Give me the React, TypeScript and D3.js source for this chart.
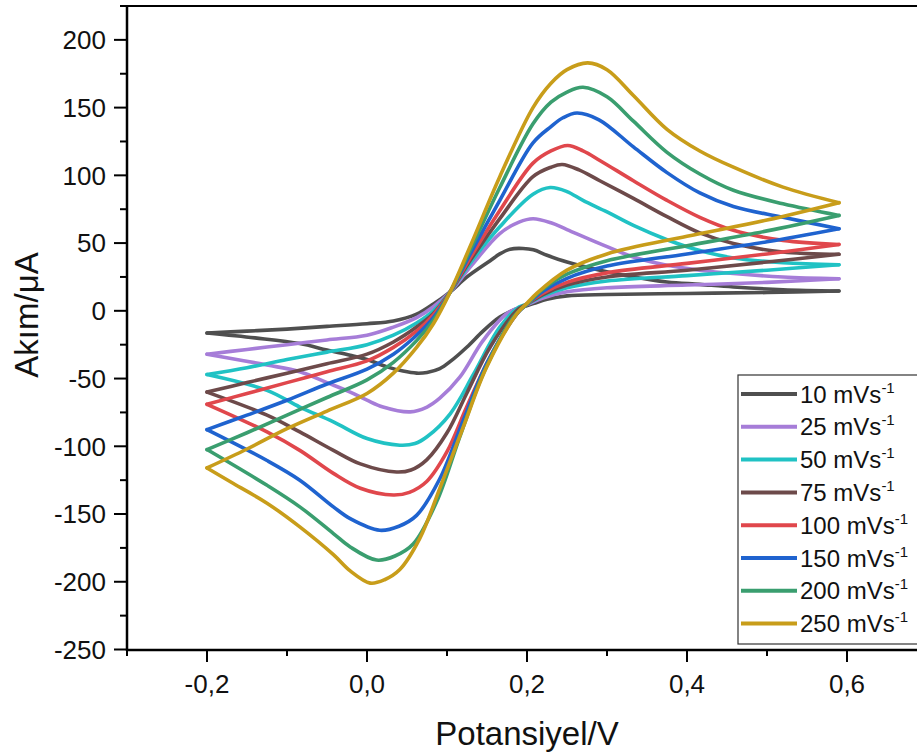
import React from "react";
import * as d3 from "d3";

// Scan rates and colours
const scanRates = ["10", "25", "50", "75", "100", "150", "200", "250"];
const colors = ["#4f4f4f", "#a67dd8", "#20c2c4", "#6d4a4a", "#e0474c", "#1f63cf", "#3a9e6f", "#c89d1a"];

// Forward (anodic) sweeps: [potential V, current µA]
const fwd10 = [[-0.2,-16.4],[-0.15,-15],[-0.1,-13.5],[-0.05,-11.5],[0.0,-9.5],[0.033,-7.5],[0.062,-2.5],[0.083,5],[0.104,14],[0.125,25],[0.154,37],[0.166,42],[0.179,45.5],[0.195,46],[0.208,45],[0.225,41],[0.25,36],[0.291,30],[0.333,25],[0.375,21.3],[0.416,19.5],[0.458,17.6],[0.52,15.6],[0.59,14.6]];
const fwd25 = [[-0.2,-32],[-0.15,-28.5],[-0.1,-25],[-0.05,-21.5],[0.0,-18],[0.033,-12],[0.062,-5],[0.083,3],[0.104,14],[0.13,33],[0.166,57],[0.19,65.5],[0.2075,68],[0.23,65],[0.25,60],[0.291,49.6],[0.333,39.7],[0.375,33.6],[0.416,30],[0.458,27.5],[0.52,25],[0.59,23.7]];
const fwd50 = [[-0.2,-47],[-0.15,-42],[-0.1,-36],[-0.05,-30.5],[0.0,-25],[0.033,-18],[0.062,-9],[0.083,0],[0.104,14],[0.13,36],[0.166,62],[0.2075,86],[0.229,91],[0.25,88],[0.27,81.5],[0.3,73],[0.333,63],[0.375,52.5],[0.416,44.5],[0.458,39],[0.52,35.5],[0.59,34]];
const fwd75 = [[-0.2,-60],[-0.15,-53],[-0.1,-46],[-0.05,-39],[0.0,-32],[0.033,-23],[0.062,-12],[0.083,-2],[0.104,14],[0.13,38],[0.166,68],[0.2075,99],[0.23,106],[0.244,108],[0.265,104],[0.291,96],[0.333,83],[0.375,69.5],[0.416,57.5],[0.458,49.6],[0.52,43.4],[0.59,41.7]];
const fwd100 = [[-0.2,-69],[-0.15,-61],[-0.1,-53],[-0.05,-45],[0.0,-37],[0.033,-27],[0.062,-15],[0.083,-3],[0.104,14],[0.13,40],[0.166,74],[0.2075,109],[0.23,118],[0.251,122],[0.27,118],[0.291,111],[0.333,96],[0.375,81.5],[0.416,69],[0.458,59.4],[0.52,52],[0.59,49]];
const fwd150 = [[-0.2,-87.7],[-0.15,-77],[-0.1,-66],[-0.05,-54],[0.0,-43],[0.033,-32],[0.062,-18],[0.083,-5],[0.104,14],[0.13,43],[0.166,81.5],[0.2075,124],[0.23,136],[0.245,142.5],[0.2625,146],[0.29,141],[0.333,121],[0.375,102],[0.416,87],[0.458,77],[0.52,69],[0.59,60.6]];
const fwd200 = [[-0.2,-102.4],[-0.15,-90],[-0.1,-77],[-0.05,-64],[0.0,-51],[0.033,-38],[0.062,-22],[0.083,-7],[0.104,14],[0.13,46],[0.166,91],[0.2075,138],[0.23,154],[0.25,161.5],[0.27,165],[0.3,158],[0.333,140],[0.375,117],[0.416,101],[0.458,89],[0.52,79],[0.59,70.4]];
const fwd250 = [[-0.2,-116],[-0.15,-102],[-0.1,-87],[-0.05,-74],[0.0,-61],[0.033,-46],[0.062,-27],[0.083,-9.5],[0.104,14],[0.13,49],[0.166,99],[0.2075,150],[0.23,168],[0.25,178],[0.276,183],[0.3,178],[0.333,159],[0.375,134],[0.416,118],[0.458,106],[0.52,91.3],[0.59,79.8]];

// Reverse (cathodic) sweeps: [potential V, current µA]
const rev10 = [[0.59,14.6],[0.5,13.5],[0.4,12.8],[0.3,12],[0.25,11],[0.225,8.5],[0.208,5.3],[0.185,1],[0.166,-4.6],[0.145,-15],[0.125,-26.7],[0.105,-37],[0.091,-42.7],[0.075,-45.5],[0.062,-46],[0.045,-44.5],[0.025,-41.4],[0.0,-36],[-0.021,-32.8],[-0.05,-29],[-0.084,-24.2],[-0.14,-20],[-0.2,-16.4]];
const rev25 = [[0.59,23.7],[0.5,21],[0.4,19],[0.3,17],[0.25,14],[0.22,9.5],[0.2,4.5],[0.175,-2],[0.145,-22],[0.116,-49],[0.091,-64.5],[0.075,-71],[0.054,-74.6],[0.02,-71],[0.0,-66],[-0.021,-60],[-0.05,-53],[-0.084,-45],[-0.125,-40],[-0.2,-32]];
const rev50 = [[0.59,34],[0.5,30],[0.4,26],[0.3,22],[0.25,17],[0.22,11],[0.2,5],[0.19,2.8],[0.166,-12],[0.133,-47],[0.104,-76],[0.075,-93],[0.06,-98],[0.041,-99.2],[0.0,-94.3],[-0.042,-82],[-0.084,-71],[-0.125,-58.7],[-0.2,-47]];
const rev75 = [[0.59,41.7],[0.5,36],[0.4,30],[0.3,25],[0.25,19],[0.22,12],[0.2,5],[0.1875,0.4],[0.154,-26.7],[0.1246,-61],[0.1,-90],[0.0746,-110],[0.055,-117.5],[0.037,-119],[-0.0083,-113],[-0.042,-103],[-0.084,-89.4],[-0.125,-77],[-0.2,-60]];
const rev100 = [[0.59,49],[0.5,42],[0.4,35],[0.3,28],[0.25,21],[0.22,13],[0.2,5],[0.1875,-2],[0.154,-34],[0.1246,-71],[0.1,-104],[0.0746,-126],[0.053,-134],[0.033,-136],[-0.0083,-131],[-0.042,-120],[-0.084,-103],[-0.125,-89.4],[-0.2,-69]];
const rev150 = [[0.59,60.6],[0.5,51],[0.4,42],[0.3,33],[0.25,24],[0.22,14.5],[0.2,5],[0.1875,-2],[0.1496,-39],[0.1204,-80.8],[0.091,-124],[0.062,-151],[0.04,-159],[0.016,-162],[-0.021,-153.4],[-0.042,-144.7],[-0.084,-125],[-0.125,-110.5],[-0.2,-87.7]];
const rev200 = [[0.59,70.4],[0.5,59],[0.4,48],[0.3,37],[0.25,27],[0.22,16],[0.2,5],[0.183,-4.6],[0.1454,-46.3],[0.116,-93],[0.087,-141],[0.058,-172],[0.035,-181],[0.012,-184],[-0.021,-174.3],[-0.042,-164.4],[-0.084,-144.7],[-0.125,-128.8],[-0.2,-102.4]];
const rev250 = [[0.59,79.8],[0.5,67],[0.4,55],[0.3,42],[0.25,30],[0.2125,13],[0.2,5.5],[0.1875,-2],[0.1496,-41.5],[0.1204,-85.7],[0.091,-131],[0.066,-168],[0.041,-191],[0.022,-198.5],[0.004,-201],[-0.021,-192],[-0.042,-180],[-0.084,-159.5],[-0.125,-142],[-0.167,-127.5],[-0.2,-116]];

const forwardSweeps = [fwd10, fwd25, fwd50, fwd75, fwd100, fwd150, fwd200, fwd250];
const reverseSweeps = [rev10, rev25, rev50, rev75, rev100, rev150, rev200, rev250];

const xMajorTicks = [-0.2, 0.0, 0.2, 0.4, 0.6];
const xMinorTicks = [-0.3, -0.1, 0.1, 0.3, 0.5, 0.7];
const yMajorTicks = [-250, -200, -150, -100, -50, 0, 50, 100, 150, 200];
const yMinorTicks = [-225, -175, -125, -75, -25, 25, 75, 125, 175, 225];

const W = 917;
const H = 753;
const FONT = "'Liberation Sans', Arial, Helvetica, sans-serif";

export default function App() {
  const x = d3.scaleLinear().domain([-0.3, 0.7]).range([127, 927]);
  const y = d3.scaleLinear().domain([-250, 225]).range([649.5, 6]);

  const line = d3
    .line<number[]>()
    .x((d) => x(d[0]))
    .y((d) => y(d[1]))
    .curve(d3.curveCatmullRom.alpha(0.5));

  const sorted = (arr: number[][]) => [...arr].sort((a, b) => a[0] - b[0]);

  const legendTop = 394;
  const legendStep = 32.8;

  return (
    <svg
      width={W}
      height={H}
      style={{ position: "absolute", left: 0, top: 0, background: "#fff" }}
      fontFamily={FONT}
    >
      <rect x={0} y={0} width={W} height={H} fill="#fff" />
      <defs>
        <clipPath id="plotClip">
          <rect x={127} y={6} width={800} height={643.5} />
        </clipPath>
      </defs>

      {/* curves */}
      <g clipPath="url(#plotClip)" fill="none" strokeWidth={3.6} strokeLinejoin="round" strokeLinecap="round">
        {scanRates.map((s, i) => (
          <g key={s} stroke={colors[i]}>
            <path d={line(sorted(forwardSweeps[i])) || ""} />
            <path d={line(sorted(reverseSweeps[i])) || ""} />
          </g>
        ))}
      </g>

      {/* frame */}
      <line x1={127} x2={930} y1={6} y2={6} stroke="#000" strokeWidth={2.2} />
      <line x1={127} x2={127} y1={5} y2={651} stroke="#000" strokeWidth={2.5} />
      <line x1={126} x2={930} y1={650} y2={650} stroke="#000" strokeWidth={2.5} />

      {/* y ticks */}
      {yMajorTicks.map((t) => (
        <g key={"ym" + t}>
          <line x1={114} x2={127} y1={y(t)} y2={y(t)} stroke="#000" strokeWidth={2} />
          <text x={106} y={y(t)} dy="0.36em" textAnchor="end" fontSize={26} fill="#111">
            {String(t)}
          </text>
        </g>
      ))}
      {yMinorTicks.map((t) => (
        <line key={"yn" + t} x1={120} x2={127} y1={y(t)} y2={y(t)} stroke="#000" strokeWidth={2} />
      ))}

      {/* x ticks */}
      {xMajorTicks.map((t) => (
        <g key={"xm" + t}>
          <line x1={x(t)} x2={x(t)} y1={650} y2={662} stroke="#000" strokeWidth={2} />
          <text x={x(t)} y={693} textAnchor="middle" fontSize={26} fill="#111">
            {d3.format(".1f")(t).replace(".", ",").replace("−", "-")}
          </text>
        </g>
      ))}
      {xMinorTicks.map((t) => (
        <line key={"xn" + t} x1={x(t)} x2={x(t)} y1={650} y2={656} stroke="#000" strokeWidth={2} />
      ))}

      {/* axis titles */}
      <text x={527} y={745} textAnchor="middle" fontSize={33} fill="#111">
        Potansiyel/V
      </text>
      <text
        transform="translate(38,315) rotate(-90)"
        textAnchor="middle"
        fontSize={33}
        fill="#111"
      >
        Akım/μA
      </text>

      {/* legend */}
      <rect x={738} y={375} width={200} height={269} fill="#fff" stroke="#333" strokeWidth={1.2} />
      {scanRates.map((s, i) => {
        const cy = legendTop + i * legendStep;
        return (
          <g key={"lg" + s}>
            <line x1={741} x2={797} y1={cy} y2={cy} stroke={colors[i]} strokeWidth={4} />
            <text x={800} y={cy + 8.5} fontSize={24} fill="#111">
              {s + " mVs"}
              <tspan fontSize={15} dy={-10}>-1</tspan>
            </text>
          </g>
        );
      })}
    </svg>
  );
}
